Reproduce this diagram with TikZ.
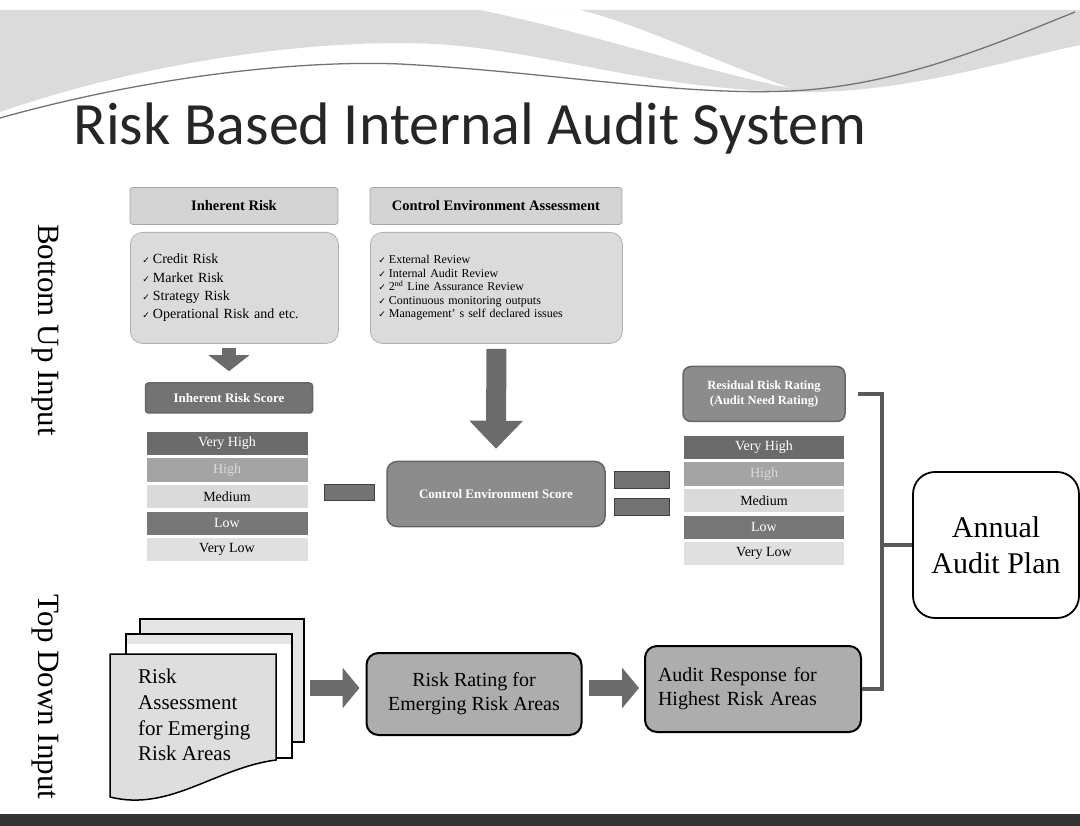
\documentclass[tikz,border=0pt]{standalone}
\usepackage{fontspec}
\setmainfont{Liberation Serif}
\newfontfamily\titlefont{Carlito}
\newfontfamily\tickfont{DejaVu Sans}
\usetikzlibrary{positioning}
\usetikzlibrary{arrows.meta}
\usetikzlibrary{calc}

\definecolor{rateVH}{HTML}{6B6B6B}
\definecolor{rateH}{HTML}{A4A4A4}
\definecolor{rateHtxt}{HTML}{DADADA}
\definecolor{rateM}{HTML}{DADADA}
\definecolor{rateL}{HTML}{777777}
\definecolor{rateVL}{HTML}{E0E0E0}

\newcommand{\chk}{{\tickfont\fontsize{9}{9}\selectfont ✓}\hspace{3pt}}

\tikzstyle{headbox}=[draw=black!35,fill=black!17,line width=0.8pt,rounded corners=3pt,minimum height=37pt,font=\fontsize{14.5}{16}\selectfont\bfseries]
\tikzstyle{listbox}=[draw=black!30,fill=black!14,line width=0.8pt,rounded corners=12pt,align=left,anchor=north west]
\tikzstyle{scorebox}=[draw=black!60,line width=1.5pt,text=white,align=center,font=\fontsize{13}{15}\selectfont\bfseries]
\tikzstyle{rating}=[minimum height=23pt,inner sep=0pt,font=\fontsize{14}{14}\selectfont]
\tikzstyle{opbar}=[draw=black!75,fill=black!55,line width=1pt,inner sep=0pt]
\tikzstyle{flowbox}=[draw=black,fill=black!32,line width=2pt,rounded corners=12pt,font=\fontsize{20}{24}\selectfont]
\tikzstyle{blockarrow}=[black!58]
\tikzstyle{bracket}=[draw=black!65,line width=3.5pt]
\tikzstyle{sidelabel}=[rotate=-90,font=\fontsize{31}{31}\selectfont]
\tikzstyle{page}=[draw=black,line width=1.5pt]

\begin{document}
\begin{tikzpicture}[x=1pt,y=-1pt]
\useasboundingbox (0,0) rectangle (1080,826);

    % banner across the top and bar at the foot
    \fill[black!14] (0,10) -- (1080,10) -- (1080,45) .. controls (1000,62) and (900,95) .. (790,92)
        .. controls (650,88) and (560,55) .. (450,45) .. controls (330,36) and (150,60) .. (0,112) -- cycle;
    \fill[white] (480,10) .. controls (580,30) and (700,70) .. (790,88) .. controls (700,55) and (640,25) .. (580,10) -- cycle;
    \draw[black!55, line width=1.3pt] (0,118) .. controls (150,76) and (300,60) .. (400,64)
        .. controls (550,72) and (680,96) .. (790,91) .. controls (900,86) and (1000,42) .. (1075,12);
    \fill[black!80] (0,814) rectangle (1080,826);

    \node[anchor=base west, text=black!85, font=\titlefont\fontsize{60}{60}\selectfont] (title) at (70,145) {Risk Based Internal Audit System};

    \node[sidelabel] (bottomup) at (45,330) {Bottom Up Input};
    \node[sidelabel] (topdown) at (45,697) {Top Down Input};

    % bottom up input
    \node[headbox, minimum width=208pt] (ihead) at (234,206) {Inherent Risk};
    \node[headbox, minimum width=252pt] (chead) at (496,206) {Control Environment Assessment};

    \node[listbox, minimum width=208pt, minimum height=111pt, inner sep=12pt, text width=184pt,
          font=\fontsize{14}{18.3}\selectfont] (ilist) at (130,232)
        {\chk Credit Risk\\ \chk Market Risk\\ \chk Strategy Risk\\ \chk Operational Risk and etc.};
    \node[listbox, minimum width=252pt, minimum height=111pt, inner sep=8pt, text width=236pt,
          font=\fontsize{12}{13.5}\selectfont] (clist) at (370,232)
        {\chk External Review\\ \chk Internal Audit Review\\ \chk 2\textsuperscript{nd} Line Assurance Review\\
         \chk Continuous monitoring outputs\\ \chk Management’ s self declared issues};

    \node[scorebox, fill=black!55, minimum width=167pt, minimum height=30pt, rounded corners=3pt] (iscore) at (229,398) {Inherent Risk Score};
    \node[scorebox, fill=black!45, minimum width=218pt, minimum height=65pt, rounded corners=10pt] (cscore) at (496,494) {Control Environment Score};
    \node[scorebox, fill=black!45, minimum width=162pt, minimum height=55pt, rounded corners=8pt,
          font=\fontsize{12.5}{15}\selectfont\bfseries] (resid) at (764,394) {Residual Risk Rating\\(Audit Need Rating)};

    % rating scales
    \foreach \name/\label/\fc/\tc [count=\i] in {vh/Very High/rateVH/white, h/High/rateH/rateHtxt, m/Medium/rateM/black, l/Low/rateL/white, vl/Very Low/rateVL/black}
    {
        \node[rating, fill=\fc, text=\tc, minimum width=161pt] (in\name) at (227,{443.5+26.5*(\i-1)}) {\label};
        \node[rating, fill=\fc, text=\tc, minimum width=160pt] (out\name) at (764,{447.5+26.5*(\i-1)}) {\label};
    }

    % minus and equals
    \node[opbar, minimum width=50pt, minimum height=16pt] (minus) at (349,492) {};
    \node[opbar, minimum width=55pt, minimum height=16pt] (eqtop) at (642,480) {};
    \node[opbar, minimum width=55pt, minimum height=17pt] (eqbot) at (642,507) {};

    \draw[blockarrow, line width=14pt, -{Triangle[width=40pt,length=16pt]}, shorten <=4pt, shorten >=11pt] (ilist.south -| iscore) -- (iscore.north);
    \draw[blockarrow, line width=20pt, -{Triangle[width=52pt,length=28pt]}, shorten <=5pt, shorten >=12pt] (clist.south) -- (cscore.north);

    % top down input
    \fill[black!10] (140,619) rectangle (304,742);
    \draw[page] (140,619) rectangle (304,742);
    \fill[white] (126,634) rectangle (292,758);
    \fill[black!10] (126,634) rectangle (292,644);
    \draw[page] (126,634) rectangle (292,758);
    \draw[page, fill=black!13] (110,654) -- (276,654) -- (276,760) .. controls (215,768) and (170,812) .. (110,797) -- cycle;
    \node[anchor=north west, align=left, inner sep=0pt, font=\fontsize{21}{25.7}\selectfont] (assess) at (138,669)
        {Risk\\Assessment\\for Emerging\\Risk Areas};

    \node[flowbox, minimum width=215pt, minimum height=82pt, align=center] (rrate) at (474,694) {Risk Rating for\\Emerging Risk Areas};
    \node[flowbox, minimum width=216pt, minimum height=86pt, align=left, text width=190pt] (aresp) at (753,689) {Audit Response for\\Highest Risk Areas};

    \node[draw=black, line width=1.8pt, fill=white, rounded corners=22pt, minimum width=166pt, minimum height=146pt,
          align=center, font=\fontsize{30}{36}\selectfont] (plan) at (996,545) {Annual\\Audit Plan};

    \coordinate (docout) at (310,688);
    \coordinate (join) at (882,545);

    % arrows along the bottom row
    \draw[blockarrow, line width=16pt, -{Triangle[width=40pt,length=17pt]}, shorten >=6pt] (docout) -- (docout -| rrate.west);
    \draw[blockarrow, line width=16pt, -{Triangle[width=40pt,length=17pt]}, shorten <=6pt, shorten >=5pt] (rrate.east |- docout) -- (docout -| aresp.west);

    % join into the annual plan
    \draw[bracket] ([xshift=12pt]resid.east) -| (join) |- (aresp.east);
    \draw[bracket] (join) -- (plan.west);

\end{tikzpicture}
\end{document}
